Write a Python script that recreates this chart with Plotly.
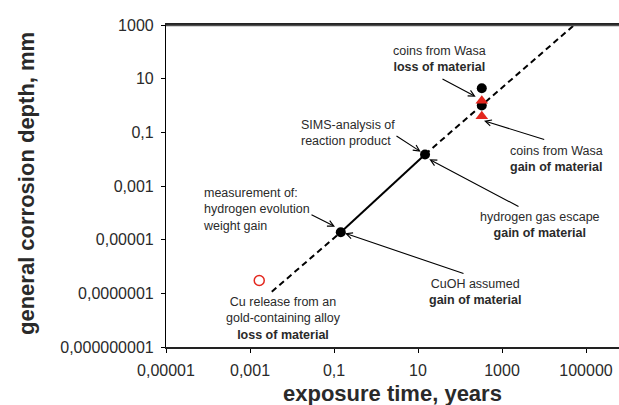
import plotly.graph_objects as go

# ---- data ----
dash_low_x = [0.0033, 0.145]
dash_low_y = [1.15e-7, 1.9e-5]
solid_x = [0.145, 14.7]
solid_y = [1.9e-5, 0.015]
dash_high_x = [14.7, 52500]
dash_high_y = [0.015, 1000]
black_x = [0.145, 14.7, 330, 330]
black_y = [1.9e-5, 0.015, 4.4, 1.0]
red_tri_x = [330, 330]
red_tri_y = [1.5, 0.4]
open_x = [0.00166]
open_y = [3.0e-7]

x_tickvals = [1e-5, 1e-3, 1e-1, 10, 1000, 1e5]
x_ticktext = ["0,00001", "0,001", "0,1", "10", "1000", "100000"]
y_tickvals = [1e-9, 1e-7, 1e-5, 1e-3, 1e-1, 10, 1000]
y_ticktext = ["0,000000001", "0,0000001", "0,00001", "0,001", "0,1", "10", "1000"]

FONT = "Liberation Sans, Arial, Helvetica, sans-serif"
RED = "#e3261d"
TXT = "#2a2a2a"

W, H = 619, 405
L, T, B = 166, 25, 58
PW = W - L
PH = H - T - B


def px(x):
    return (x - L) / PW


def py(y):
    return (H - B - y) / PH


fig = go.Figure()
fig.add_trace(go.Scatter(x=dash_low_x, y=dash_low_y, mode="lines",
                         line=dict(color="black", width=2, dash="6px,4px")))
fig.add_trace(go.Scatter(x=solid_x, y=solid_y, mode="lines",
                         line=dict(color="black", width=2)))
fig.add_trace(go.Scatter(x=dash_high_x, y=dash_high_y, mode="lines",
                         line=dict(color="black", width=2, dash="6px,4px")))
fig.add_trace(go.Scatter(x=black_x, y=black_y, mode="markers",
                         marker=dict(symbol="circle", size=10, color="black")))
fig.add_trace(go.Scatter(x=red_tri_x, y=red_tri_y, mode="markers",
                         marker=dict(symbol="triangle-up", size=11, color=RED)))
fig.add_trace(go.Scatter(x=open_x, y=open_y, mode="markers",
                         marker=dict(symbol="circle-open", size=10, color=RED,
                                     line=dict(width=1.5, color=RED))))

# text labels: (text, x px, y px, xanchor, align)
labels = [
    ("coins from Wasa<br><b>loss of material</b>", 439, 59.5, "center", "center"),
    ("SIMS-analysis of<br>reaction product", 299, 133, "left", "left"),
    ("coins from Wasa<br><b>gain of material</b>", 508, 159, "left", "left"),
    ("hydrogen gas escape<br><b>gain of material</b>", 540, 225, "center", "center"),
    ("measurement of:<br>hydrogen evolution<br>weight gain", 201, 209.5, "left", "left"),
    ("CuOH assumed<br><b>gain of material</b>", 475, 291.7, "center", "center"),
    ("Cu release from an<br>gold-containing alloy<br><b>loss of material</b>", 283.5, 318.3, "center", "center"),
]
annotations = []
for text, x, y, xa, al in labels:
    annotations.append(dict(text=text, x=px(x), y=py(y), xref="paper", yref="paper",
                            xanchor=xa, yanchor="middle", align=al, showarrow=False,
                            font=dict(family=FONT, size=12.5, color=TXT)))

# arrows: (tail x, tail y, head x, head y) in px
arrows = [
    (441, 78.3, 475.7, 96.7),
    (395, 135, 420.7, 151.7),
    (545.7, 140, 484, 120.7),
    (520, 207.3, 429.3, 159.3),
    (310, 214, 335, 226.7),
    (465, 274, 345, 233.3),
]
for tx, ty, hx, hy in arrows:
    annotations.append(dict(text="", x=px(hx), y=py(hy), xref="paper", yref="paper",
                            ax=tx - hx, ay=ty - hy, axref="pixel", ayref="pixel",
                            showarrow=True, arrowhead=5, arrowsize=1.1, arrowwidth=1.1,
                            arrowcolor="black"))

# axis titles
annotations.append(dict(text="<b>exposure time, years</b>", x=px(392.5), y=py(393),
                        xref="paper", yref="paper", xanchor="center", yanchor="middle",
                        showarrow=False, font=dict(family=FONT, size=22, color=TXT)))
annotations.append(dict(text="<b>general corrosion depth, mm</b>", x=px(26), y=py(184),
                        xref="paper", yref="paper", xanchor="center", yanchor="middle",
                        textangle=-90, showarrow=False,
                        font=dict(family=FONT, size=22, color=TXT)))

fig.update_layout(
    width=W, height=H,
    margin=dict(l=L, r=0, t=T, b=B),
    paper_bgcolor="white", plot_bgcolor="white",
    showlegend=False,
    annotations=annotations,
    shapes=[dict(type="line", xref="paper", yref="paper", x0=0, x1=1,
                 y0=py(25.5), y1=py(25.5),
                 line=dict(color="#505050", width=1.5))],
    xaxis=dict(type="log", range=[-5, -5 + PW / 42], tickvals=x_tickvals, ticktext=x_ticktext,
               showline=True, mirror=True, linecolor="#222222", linewidth=1.5,
               ticks="outside", ticklen=4,
               tickcolor="black", showgrid=False, zeroline=False, ticklabelstandoff=4,
               tickfont=dict(family=FONT, size=16, color=TXT)),
    yaxis=dict(type="log", range=[-9, 3], tickvals=y_tickvals, ticktext=y_ticktext,
               showline=True, linecolor="black", linewidth=1.2, ticks="outside", ticklen=4,
               tickcolor="black", showgrid=False, zeroline=False, ticklabelstandoff=4,
               tickfont=dict(family=FONT, size=16, color=TXT)),
)

fig.write_html(
    "out.html",
    config={"displayModeBar": False},
    post_script="document.body.style.margin='0px';",
)
